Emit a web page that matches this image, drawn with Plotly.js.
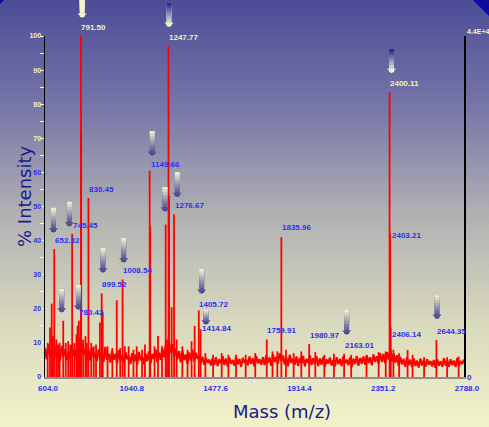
<!DOCTYPE html>
<html><head><meta charset="utf-8">
<script src="https://cdn.plot.ly/plotly-3.0.1.min.js"></script>
<style>
html,body{margin:0;padding:0;width:489px;height:427px;overflow:hidden;
background:linear-gradient(to bottom,#4c4c98 0%,#7676a8 25%,#b0b0b3 50%,#d8d8bd 75%,#f2f2ca 100%);}
#chart{width:489px;height:427px;}
</style></head><body><div id="chart"></div>
<script>
// ---------------- data ----------------
const massStart = 604;
const massEnd = 2788;
const baselineNoise = [
8.5,5.2,9.6,6.1,7.8,4.6,8.9,5.5,7.2,4.8,9.1,
5.9,8.2,4.9,7.6,5.3,9.4,6.2,8.0,4.7,7.5,
5.8,9.8,6.4,8.3,5.1,7.9,4.9,8.6,5.6,7.1,
4.6,8.1,5.3,7.4,4.4,8.8,5.0,6.9,4.2,7.7,
5.1,6.8,3.9,7.9,4.8,6.5,4.1,7.3,5.2,6.2,
3.8,7.0,4.5,6.6,3.6,7.4,4.9,6.1,3.7,6.9,
4.6,7.5,4.0,6.8,5.3,8.1,4.4,7.2,5.0,8.4,
5.8,9.2,6.5,10.4,7.1,9.6,5.9,8.3,5.2,7.6,
4.3,7.8,5.0,6.6,3.9,7.2,4.8,8.0,4.5,7.1,
5.3,6.4,4.1,5.9,3.6,5.6,4.2,5.1,3.4,5.5,
3.6,5.8,3.2,5.2,4.0,6.1,3.5,5.4,3.1,5.7,
3.9,5.0,3.3,5.9,3.7,5.3,3.0,5.6,4.1,5.1,
3.4,6.0,3.8,5.5,3.1,6.2,4.0,5.2,3.6,5.8,
3.5,6.4,4.2,5.7,3.3,6.6,4.4,5.9,3.9,7.0,
4.6,6.3,3.7,5.8,3.2,6.5,4.1,5.4,3.6,6.0,
3.3,5.6,3.9,6.2,3.1,5.3,4.2,6.4,3.5,5.5,
3.8,6.1,3.2,5.4,3.6,5.9,3.0,5.2,3.9,5.7,
3.4,5.0,3.1,5.8,3.7,5.3,3.2,6.0,4.0,5.1,
3.5,5.7,3.0,5.4,3.8,6.2,3.3,5.6,3.9,6.0,
3.6,6.3,4.1,5.8,3.4,6.6,4.5,6.1,3.9,7.0,
4.4,6.8,4.0,7.3,5.1,8.1,4.6,6.9,4.2,6.4,
3.3,5.9,3.7,5.3,3.0,5.8,3.5,5.1,2.9,5.5,
3.2,4.8,2.8,5.4,3.4,4.9,3.0,5.2,3.6,4.7,
3.1,5.0,2.7,5.3,3.3,4.6,3.0,5.5,3.4,4.9,
3.0,5.2,3.5,4.8,2.9,5.6,3.3,4.7,3.8,5.1
];
const peakMass = [
618,630,639,645,652.32,663,672,680,699,712,725,736,745.45,757,768,774,780.42,786,
791.50,792.6,803,815,822,830.45,845,858,870,890,899.52,905,930,955,978,996,1008.54,
1020,1040,1065,1082,1110,1125,1149.66,1152.5,1175,1193,1214,1233,1240,1247.77,1250.7,
1264,1276.67,1290,1320,1347,1368,1384,1405.72,1414.84,1440,1480,1525,1560,1600,1650,
1700,1759.91,1790,1815,1835.96,1860,1900,1940,1980.97,2013,2060,2110,2163.01,2200,
2280,2343,2380,2400.11,2403.21,2406.14,2420,2450,2494,2520,2580,2644.35,2700,2760
];
const peakIntensity = [
10,14.5,21.5,12,37.5,11,9.5,10,16.5,10,10.5,9.5,42,10,12.5,15,16.5,11.5,
100,72,11,12,10,52.5,10,9,9.5,16,24.5,19,9,8.5,22.5,8.5,28.6,
9,9,8,9,8,9.5,60.5,44,9,12,9,44.7,11,97,53,
20.5,47.7,11,9,8,10.5,15,19.5,14,7,6.5,7,6.5,6.5,6.5,
7,11,7.5,7.5,41,8,7,7.5,9.7,7.3,6.5,6.8,6.8,6.5,
6.5,7.3,7.5,83.5,42,14.5,8,7,7.9,6.5,5.8,10.8,5.8,6
];
const labeledMasses = [791.50,1247.77,2400.11,1149.66,830.45,1276.67,745.45,652.32,780.42,
  899.52,1008.54,1405.72,1414.84,1759.91,1835.96,1980.97,2163.01,2403.21,2406.14,2644.35];
const arrowMasses = [791.50,1247.77,2400.11,1149.66,1276.67,1233,745.45,652.32,780.42,699,
  899.52,1008.54,1405.72,1414.84,2163.01,2644.35];
const xTickValues = [604,1040.8,1477.6,1914.4,2351.2,2788];
const xTickLabels = ['604.0','1040.8','1477.6','1914.4','2351.2','2788.0'];
const xMinorTicks = [822.4,1259.2,1696,2132.8,2569.6];
const yTickValues = [0,10,20,30,40,50,60,70,80,90,100];
const yTickLabels = ['0','10','20','30','40','50','60','70','80','90','100'];
const yMinorTicks = [5,15,25,35,45,55,65,75,85,95];
const fullScaleLabel = '4.4E+4';
const xTitle = 'Mass (m/z)';
const yTitle = '% Intensity';

// ---------------- style / layout config ----------------
const W = 489, H = 427, M = {l:45, r:25, t:36, b:50};
const BLUE = '#2e2ef2', CREAM = '#f2f2b4', NAVY = '#1a1a8c';
const creamLabels = [791.50,1247.77,2400.11];
const creamTicks = [70,80,90,100];
// label offsets (px right, px up) relative to the peak top
const labelOffset = {'1149.66':[0.3,6.7],'1405.72':[-0.8,6.5],'1414.84':[0.4,0.3],
  '2403.21':[0.5,-2.2],'2406.14':[0.2,-7.4],'1247.77':[-0.5,9.2],'1835.96':[-0.4,9.2]};
// arrow geometry: [dx px, tip above peak px, length px, style]
const arrowGeom = {
 '791.5':[1.2,18,24,'A'],'1247.77':[0.5,19,24,'B'],'2400.11':[2,19,24,'B'],
 '1149.66':[2.5,14.7,25,'C'],'1276.67':[3.2,17,25,'C'],'1233':[-0.7,12.6,25,'C'],
 '745.45':[-2.8,7,25,'C'],'652.32':[-0.8,16.3,25,'C'],'780.42':[-0.5,10.7,25,'C'],
 '699':[-1.5,8,24,'C'],'899.52':[1.3,20.5,25,'C'],'1008.54':[1.1,16.5,25,'C'],
 '1405.72':[2.9,16.5,25,'C'],'1414.84':[5.4,4.3,15,'C'],'2163.01':[2.6,18.8,25,'C'],
 '2644.35':[0.6,21,24,'C']};
const arrowColors = {A:['#f4f4cc','#f4f4cc','#f4f4cc'], B:['#1c1c94','#f4f4cc','#f4f4cc'], C:['#f8f8d2','#4a4a92','#4c4c94']};

function intensityOf(m){ return peakIntensity[peakMass.findIndex(v=>Math.abs(v-m)<1e-6)]; }
function hex2rgb(h){return [1,3,5].map(i=>parseInt(h.substr(i,2),16));}
function mix(a,b,t){const A=hex2rgb(a),B=hex2rgb(b);return 'rgb('+A.map((v,i)=>Math.round(v+(B[i]-v)*t)).join(',')+')';}
function pxX(p){return (p-M.l)/(W-M.l-M.r);} // page px -> paper
function pxY(p){return (H-M.b-p)/(H-M.t-M.b);}

// ---------------- traces ----------------
const noiseX = baselineNoise.map((_,i)=>massStart + i*(massEnd-massStart)/(baselineNoise.length-1));
const stickX = [], stickY = [];
peakMass.forEach((m,i)=>{ stickX.push(m,m,null); stickY.push(0,peakIntensity[i],null); });

const traces = [
 {type:'scatter', mode:'lines', x:noiseX, y:baselineNoise, line:{color:'#ff0000', width:2.1}, hoverinfo:'skip', showlegend:false},
 {type:'scatter', mode:'lines', x:stickX, y:stickY, yaxis:'y2', line:{color:'#ff0000', width:1.8}, hoverinfo:'skip', showlegend:false}
];

// ---------------- annotations ----------------
const ann = [];
const lblFont = {family:'Liberation Sans, Arial, sans-serif', size:8, weight:'bold'};
labeledMasses.forEach(m=>{
  const key = m.toFixed(2);
  const off = labelOffset[key] || [-0.5,8.5];
  ann.push({x:m, y:intensityOf(m), xref:'x', yref:'y', text:key, showarrow:false,
    xanchor:'left', yanchor:'middle', xshift:off[0], yshift:off[1], borderpad:0,
    font:Object.assign({}, lblFont, {color: creamLabels.includes(m)?CREAM:BLUE})});
});
arrowMasses.forEach(m=>{
  const [dx, tipUp, len, st] = arrowGeom[String(m)];
  const [cTop, cBot, cHead] = arrowColors[st];
  const h = intensityOf(m);
  const wBody = 4.8, headBack = 3.4, nSeg = 8;
  const bodyLen = len - headBack;
  const topUp = tipUp + len;
  // arrow head
  ann.push({x:m, y:h, xref:'x', yref:'y', text:'', font:{size:1}, showarrow:true, arrowhead:1, arrowsize:0.32,
    arrowwidth:wBody, arrowcolor:cHead, ax:0, ay:-(headBack+1), xshift:dx, yshift:tipUp, borderpad:0, standoff:0});
  // gradient body: overlapping strokes all starting at the top of the arrow
  for(let k=nSeg-1;k>=0;k--){
    const L = (bodyLen+1)*(k+1)/nSeg;
    ann.push({x:m, y:h, xref:'x', yref:'y', text:'', font:{size:1}, showarrow:true, arrowhead:0,
      arrowwidth:wBody, arrowcolor:mix(cTop,cBot,(k+0.5)/nSeg), ax:0, ay:L,
      xshift:dx, yshift:topUp, borderpad:0, standoff:0});
  }
});
ann.push({xref:'paper', yref:'paper', x:1, y:1, xanchor:'left', yanchor:'middle', xshift:1.5, yshift:5,
  text:fullScaleLabel, showarrow:false, borderpad:0, font:Object.assign({}, lblFont, {size:7, color:CREAM})});
ann.push({xref:'paper', yref:'paper', x:pxX(282), y:pxY(412), xanchor:'center', yanchor:'middle',
  text:xTitle, showarrow:false, font:{family:'DejaVu Sans, Verdana, sans-serif', size:18, color:NAVY}});
ann.push({xref:'paper', yref:'paper', x:pxX(24), y:pxY(196), xanchor:'center', yanchor:'middle', textangle:-90,
  text:yTitle, showarrow:false, font:{family:'DejaVu Sans, Verdana, sans-serif', size:18, color:NAVY}});

// ---------------- layout ----------------
const tickFont = {family:'Liberation Sans, Arial, sans-serif', size:8, weight:'bold', color:BLUE};
const layout = {
  width:W, height:H, margin:M,
  paper_bgcolor:'rgba(0,0,0,0)', plot_bgcolor:'rgba(0,0,0,0)',
  showlegend:false,
  xaxis:{range:[massStart, massEnd], tickmode:'array', tickvals:xTickValues, ticktext:xTickLabels,
    showgrid:false, zeroline:false, showline:true, linecolor:'#8c8c8c', linewidth:2,
    ticks:'outside', ticklen:2, tickcolor:'#f4f4f4', tickwidth:1, tickfont:tickFont, ticklabelshift:3,
    minor:{tickvals:xMinorTicks, ticks:'outside', ticklen:4, tickcolor:'#f4f4f4', tickwidth:1}},
  yaxis:{range:[0,100], tickmode:'array', tickvals:yTickValues,
    ticktext:yTickLabels.map((t,i)=>creamTicks.includes(yTickValues[i])?'<span style="color:'+CREAM+'">'+t+'</span>':t),
    showgrid:false, zeroline:false, showline:true, linecolor:'#000', linewidth:1.5,
    ticks:'outside', ticklen:4, tickcolor:'#f4f4f4', tickwidth:1,
    tickfont:Object.assign({}, tickFont, {size:7}), ticklabelstandoff:-3,
    minor:{tickvals:yMinorTicks, ticks:'outside', ticklen:4, tickcolor:'#f4f4f4', tickwidth:1}},
  yaxis2:{range:[0,100], overlaying:'y', side:'right', tickmode:'array', tickvals:[0], ticktext:['0'],
    showgrid:false, zeroline:false, showline:true, linecolor:'#000', linewidth:1.5, ticks:'',
    tickfont:Object.assign({}, tickFont, {size:8})},
  annotations:ann,
  shapes:[
    {type:'path', xref:'paper', yref:'paper', line:{width:0}, fillcolor:'#0c0ca0',
     path:'M'+pxX(473)+','+pxY(0)+' L'+pxX(490)+','+pxY(0)+' L'+pxX(490)+','+pxY(17)+' Z'},
    {type:'path', xref:'paper', yref:'paper', line:{width:0}, fillcolor:'#0c0ca0',
     path:'M'+pxX(0)+','+pxY(0)+' L'+pxX(4)+','+pxY(0)+' L'+pxX(0)+','+pxY(4)+' Z'}
  ]
};
Plotly.newPlot('chart', traces, layout, {staticPlot:true, displayModeBar:false});
</script></body></html>
